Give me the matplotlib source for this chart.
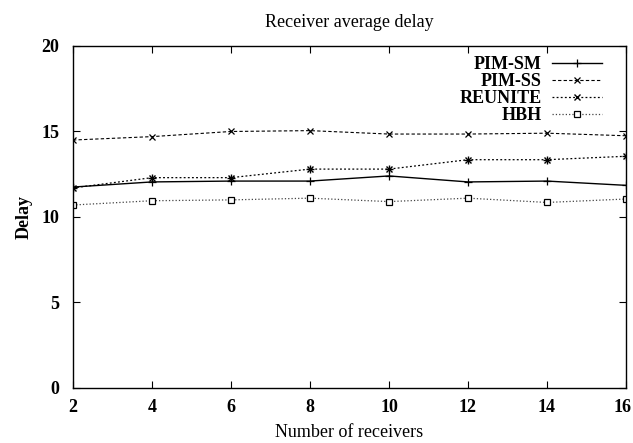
import matplotlib
matplotlib.use("Agg")
import matplotlib.pyplot as plt
from matplotlib.transforms import ScaledTranslation

receivers = [2, 4, 6, 8, 10, 12, 14, 16]
pim_sm = [11.75, 12.05, 12.1, 12.1, 12.4, 12.05, 12.1, 11.85]
pim_ss = [14.5, 14.7, 15.0, 15.05, 14.85, 14.85, 14.9, 14.75]
reunite = [11.7, 12.3, 12.3, 12.8, 12.8, 13.35, 13.35, 13.55]
hbh = [10.7, 10.95, 11.0, 11.1, 10.9, 11.1, 10.85, 11.05]

plt.rcParams['font.family'] = ['Liberation Serif', 'DejaVu Serif']

fig = plt.figure(figsize=(6.33, 4.43), dpi=100)
ax = fig.add_axes([0.1153, 0.1242, 0.8736, 0.772])

ax.plot(receivers, pim_sm, "-", color="black", lw=1.0, marker="+", ms=6, mew=0.9, label="PIM-SM")
ax.plot(receivers, pim_ss, "--", color="black", lw=0.8, dashes=(3, 2), marker="x", ms=4.5, mew=0.9, label="PIM-SS")
ax.plot(receivers, reunite, "--", color="black", lw=0.9, dashes=(1.5, 1.8), marker="x", ms=4.5, mew=1.0, label="REUNITE")
ax.plot(receivers, reunite, " ", color="black", marker="+", ms=6, mew=1.0)
ax.plot(receivers, hbh, ":", color="#444444", lw=0.9, marker="s", ms=5, mfc="white", mec="black", mew=0.9, label="HBH")

ax.set_xlim(2, 16)
ax.set_ylim(0, 20)
ax.set_xticks(receivers)
ax.set_yticks([0, 5, 10, 15, 20])
ax.tick_params(direction="in", top=True, right=True, length=5, width=0.8, labelsize=13)
ax.tick_params(axis="x", pad=8)
ax.tick_params(axis="y", pad=10)
for lab in ax.get_xticklabels() + ax.get_yticklabels():
    lab.set_fontweight("bold")
# keep the last x label inside the canvas
last = ax.get_xticklabels()[-1]
last.set_transform(last.get_transform() + ScaledTranslation(-3 / 100, 0, fig.dpi_scale_trans))
for s in ax.spines.values():
    s.set_linewidth(1.0)

ax.set_title("Receiver average delay", fontsize=13, pad=14)
ax.set_xlabel("Number of receivers", fontsize=13, labelpad=6)
ax.set_ylabel("Delay", fontsize=13, fontweight="bold", labelpad=6)

leg = ax.legend(loc="upper right", frameon=False, markerfirst=False,
                prop={"weight": "bold", "size": 13}, handlelength=2.8,
                labelspacing=0.0, borderaxespad=0.0, borderpad=0.0,
                handletextpad=0.55, bbox_to_anchor=(0.957, 0.97))
for t in leg.get_texts():
    t.set_ha("right")

fig.savefig("out.png", dpi=100)
